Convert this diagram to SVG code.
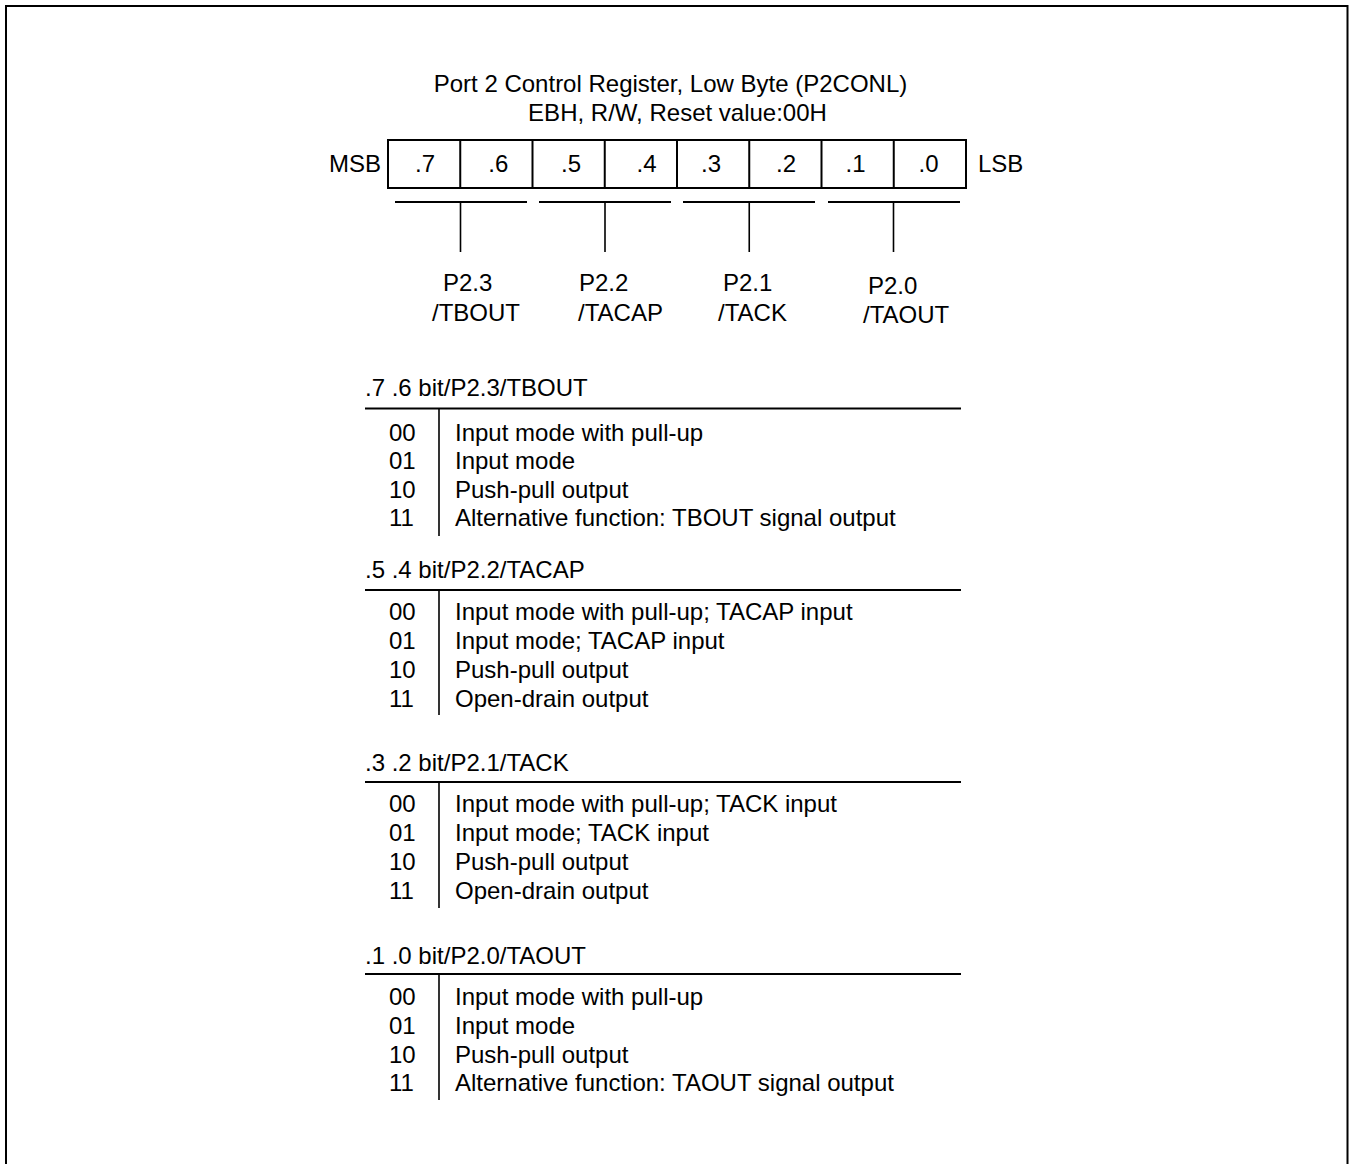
<svg xmlns="http://www.w3.org/2000/svg" width="1354" height="1164" viewBox="0 0 1354 1164">
<style>
  text { font-family: "Liberation Sans", Arial, Helvetica, sans-serif; font-size: 24px; fill: #000; }
  .mid { text-anchor: middle; }
  .end { text-anchor: end; }
  .ln { stroke: #000; stroke-width: 2; fill: none; }
  .thin { stroke: #000; stroke-width: 1.6; fill: none; }
</style>
<rect x="0" y="0" width="1354" height="1164" fill="#fff"/>
<rect id="frame" x="6" y="6" width="1341.5" height="1180" class="ln"/>

<g id="register">
  <rect x="388" y="140" width="578" height="48" class="ln"/>
  <path class="ln" d="M460.25 140V188M532.5 140V188M604.75 140V188M677 140V188M749.25 140V188M821.5 140V188M893.75 140V188"/>
</g>

<g id="connectors">
  <path class="ln" d="M395 202H527M539 202H671M683 202H815M828 202H960"/>
  <path class="thin" d="M460.5 202V252M605 202V252M749.25 202V252M893.5 202V252"/>
</g>

<g id="sections-lines">
  <g id="sec1-lines"><path class="ln" d="M365 408.5H961"/><path class="thin" d="M439 408.5V536"/></g>
  <g id="sec2-lines"><path class="ln" d="M365 590H961"/><path class="thin" d="M439 590V715"/></g>
  <g id="sec3-lines"><path class="ln" d="M365 782H961"/><path class="thin" d="M439 782V908"/></g>
  <g id="sec4-lines"><path class="ln" d="M365 974H961"/><path class="thin" d="M439 974V1100"/></g>
</g>

<g id="title">
  <text class="mid" x="670.5" y="92">Port 2 Control Register, Low Byte (P2CONL)</text>
  <text class="mid" x="677.5" y="121">EBH, R/W, Reset value:00H</text>
</g>
<g id="register-text">
  <text class="end" x="381" y="172">MSB</text>
  <text x="978" y="172">LSB</text>
  <text class="mid" x="425" y="172">.7</text>
  <text class="mid" x="498.3" y="172">.6</text>
  <text class="mid" x="571" y="172">.5</text>
  <text class="mid" x="646.5" y="172">.4</text>
  <text class="mid" x="711" y="172">.3</text>
  <text class="mid" x="786" y="172">.2</text>
  <text class="mid" x="855.5" y="172">.1</text>
  <text class="mid" x="928.5" y="172">.0</text>
</g>
<g id="label-p23"><text x="443" y="291">P2.3</text><text x="432" y="321">/TBOUT</text></g>
<g id="label-p22"><text x="579" y="291">P2.2</text><text x="578" y="321">/TACAP</text></g>
<g id="label-p21"><text x="723" y="291">P2.1</text><text x="718" y="321">/TACK</text></g>
<g id="label-p20"><text x="868" y="294">P2.0</text><text x="863" y="323">/TAOUT</text></g>

<g id="sec1">
  <text x="365" y="396">.7 .6 bit/P2.3/TBOUT</text>
  <text x="389" y="441">00</text><text x="455" y="441">Input mode with pull-up</text>
  <text x="389" y="469">01</text><text x="455" y="469">Input mode</text>
  <text x="389" y="497.5">10</text><text x="455" y="497.5">Push-pull output</text>
  <text x="389" y="526">11</text><text x="455" y="526">Alternative function: TBOUT signal output</text>
</g>
<g id="sec2">
  <text x="365" y="578">.5 .4 bit/P2.2/TACAP</text>
  <text x="389" y="620">00</text><text x="455" y="620">Input mode with pull-up; TACAP input</text>
  <text x="389" y="649">01</text><text x="455" y="649">Input mode; TACAP input</text>
  <text x="389" y="678">10</text><text x="455" y="678">Push-pull output</text>
  <text x="389" y="707">11</text><text x="455" y="707">Open-drain output</text>
</g>
<g id="sec3">
  <text x="365" y="771">.3 .2 bit/P2.1/TACK</text>
  <text x="389" y="812">00</text><text x="455" y="812">Input mode with pull-up; TACK input</text>
  <text x="389" y="841">01</text><text x="455" y="841">Input mode; TACK input</text>
  <text x="389" y="870">10</text><text x="455" y="870">Push-pull output</text>
  <text x="389" y="899">11</text><text x="455" y="899">Open-drain output</text>
</g>
<g id="sec4">
  <text x="365" y="964">.1 .0 bit/P2.0/TAOUT</text>
  <text x="389" y="1005">00</text><text x="455" y="1005">Input mode with pull-up</text>
  <text x="389" y="1034">01</text><text x="455" y="1034">Input mode</text>
  <text x="389" y="1063">10</text><text x="455" y="1063">Push-pull output</text>
  <text x="389" y="1091">11</text><text x="455" y="1091">Alternative function: TAOUT signal output</text>
</g>
</svg>
